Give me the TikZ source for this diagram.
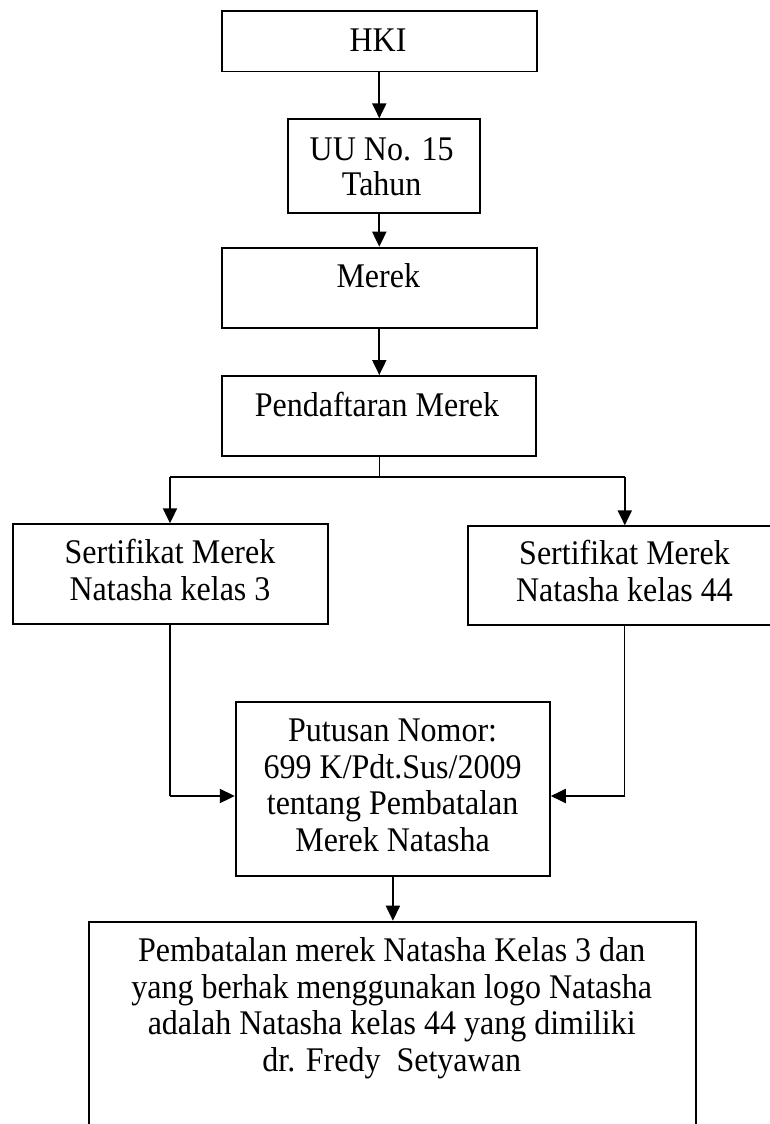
\documentclass[tikz,border=0pt]{standalone}
\usepackage{fontspec}
\setmainfont{Liberation Serif}
\usetikzlibrary{arrows.meta}
\begin{document}
\begin{tikzpicture}[x=1pt,y=-1pt,
  box/.style={draw=black,line width=1.8pt,rectangle,inner sep=0pt,anchor=north west},
  txt/.style={inner sep=0pt,align=center,anchor=base,yscale=1.08,transform shape,font=\fontsize{32}{34}\selectfont},
  txtb/.style={inner sep=0pt,align=center,anchor=base,yscale=1.08,transform shape,font=\fontsize{32}{32.4}\selectfont},
  arr/.style={line width=2pt,-{Triangle[length=15pt,width=14pt]}},
  thin/.style={line width=1.2pt},
  thick/.style={line width=2pt}]
\useasboundingbox (0,0) rectangle (770,1124);
\clip (0,0) rectangle (770,1124);
\fill[white] (0,0) rectangle (770,1124);
% boxes
\node[box,minimum width=315pt,minimum height=60.7pt] (hki) at (220.7,10) {};
\node[box,minimum width=191.4pt,minimum height=93.4pt] (uu) at (287.3,118.3) {};
\node[box,minimum width=315pt,minimum height=80pt] (mrk) at (220.7,246.7) {};
\node[box,minimum width=314.4pt,minimum height=80pt] (pend) at (221,375) {};
\node[box,minimum width=314.8pt,minimum height=99.4pt] (s3) at (12.3,523.3) {};
\node[box,minimum width=315pt,minimum height=99pt] (s44) at (467,525.3) {};
\node[box,minimum width=314.2pt,minimum height=174.3pt] (put) at (234.8,700.7) {};
\node[box,minimum width=607pt,minimum height=240pt] (res) at (88,920.7) {};
% texts (anchor base = baseline of last line)
\node[txt] (thki) at (378,51.7) {HKI};
\node[txtb] (tuu) at (381.7,195) {UU No. 15\\Tahun};
\node[txt] (tmrk) at (378.3,287.3) {Merek};
\node[txt] (tpend) at (377,416.7) {Pendaftaran Merek};
\node[txt] (ts3) at (170,600) {Sertifikat Merek\\Natasha kelas 3};
\node[txt] (ts44) at (624.5,601.7) {Sertifikat Merek\\Natasha kelas 44};
\node[txt] (tput) at (392.6,851.7) {Putusan Nomor:\\699 K/Pdt.Sus/2009\\tentang Pembatalan\\Merek Natasha};
\node[txt] (tres) at (391.7,1071.7) {Pembatalan merek Natasha Kelas 3 dan\\yang berhak menggunakan logo Natasha\\adalah Natasha kelas 44 yang dimiliki\\dr. Fredy\ \ Setyawan};
% connectors
\coordinate (a1) at (379.3,0);
\draw[arr] (hki.south -| a1) -- (uu.north -| a1);
\draw[arr] (uu.south -| a1) -- (mrk.north -| a1);
\draw[arr] (mrk.south -| a1) -- (pend.north -| a1);
\coordinate (br) at (379.3,476.7);
\coordinate (bl) at (170,476.7);
\coordinate (brr) at (624.8,476.7);
\draw[thin] (pend.south -| br) -- (br);
\draw[thick] (bl) -- (brr);
\draw[arr] (bl) -- (s3.north -| bl);
\draw[arr] (brr) -- (s44.north -| brr);
\coordinate (ml) at (170,796);
\coordinate (mr) at (624.8,796);
\draw[thin] (s3.south -| ml) -- (ml);
\draw[arr] (ml) -- (put.west |- ml);
\draw[thin] (s44.south -| mr) -- (mr);
\draw[arr] (mr) -- (put.east |- mr);
\coordinate (a2) at (392.9,0);
\draw[arr] (put.south -| a2) -- (res.north -| a2);
\end{tikzpicture}
\end{document}
